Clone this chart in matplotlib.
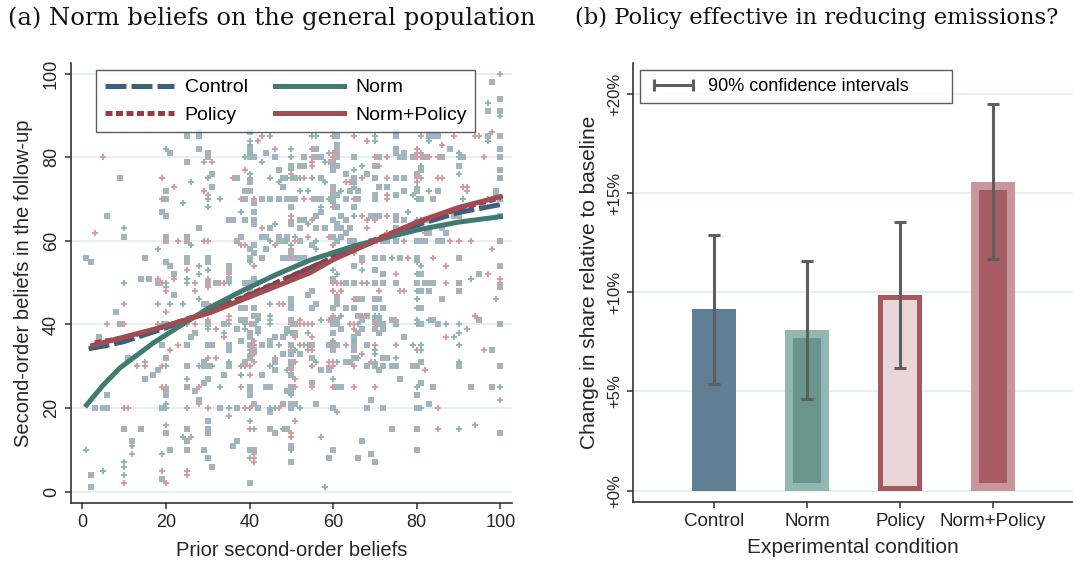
import numpy as np
import matplotlib.pyplot as plt
from matplotlib.lines import Line2D

plt.rcParams['font.family'] = ['Liberation Sans', 'DejaVu Sans']

# ---- panel (a): prior vs follow-up second-order beliefs ----
gray_pts = [(21,81),(28,82),(28,86),(30,81),(30,80),(25,79),(9,75),(31,76),(20,72),(31,73),(20,70),(6,66),(19,67),
            (20,66),(28,63),(10,61),(20,60),(25,60),(20,61),(25,61),(1,56),(2,55),(15,56),(20,55),(21,54),(25,56),
            (25,55),(30,56),(30,55),(22,52),(14,51),(16,51),(18,50),(30,50),(22,47),(29,45),(8,43),(25,85),(28,85),
            (9,40),(20,40),(4,37),(30,40),(26,37),(27,38),(19,35),(25,35),(30,35),(11,32),(20,32),(25,30),(29,30),
            (30,30),(29,31),(18,29),(17,28),(15,27),(30,27),(29,26),(20,24),(20,23),(25,25),(27,24),(6,23),(28,22),
            (3,20),(5,20),(6,20),(19,20),(20,14),(10,15),(14,15),(25,15),(25,12),(30,17),(30,15),(30,14),(12,12),
            (21,10),(25,10),(29,10),(30,8),(2,4),(2,1),(19,3),(31,6),
            (41,42),(42,42),(60,41),(61,41),(38,41),(39,41),(50,41),(34,40),(41,40),(51,40),(60,40),(61,40),(37,39),
            (42,39),(49,39),(62,39),(40,38),(51,38),(60,38),(40,37),(46,37),(48,37),(45,36),(38,36),(31,35),(35,35),
            (40,35),(43,35),(45,35),(50,35),(55,35),(59,35),(61,35),(65,35),(35,34),(41,34),(60,34),(48,33),(50,33),
            (52,33),(40,32),(55,32),(65,32),(39,31),(46,31),(50,31),(63,31),(64,31),(35,30),(50,30),(46,29),(57,29),
            (59,29),(34,28),(43,28),(50,28),(55,26),(40,25),(44,25),(45,25),(50,25),(61,25),(62,25),(40,24),(49,24),
            (50,24),(40,23),(41,21),(48,21),(50,21),(51,21),(56,21),(33,20),(37,20),(42,20),(50,20),(60,20),(45,19),
            (45,15),(49,15),(46,14),(37,12),(36,11),(50,11),(40,10),(41,10),(50,7),(59,8),(60,10),(40,2),
            (66,42),(68,42),(67,41),(70,41),(71,41),(74,41),(84,41),(95,41),(71,40),(72,40),(75,40),(81,40),(85,40),
            (100,40),(67,39),(70,39),(72,39),(66,38),(71,38),(65,37),(77,37),(65,35),(68,35),(65,34),(98,34),(65,32),
            (72,32),(73,32),(81,31),(68,30),(70,30),(72,30),(74,30),(75,30),(79,30),(80,30),(90,30),(100,30),(71,29),
            (76,27),(81,26),(84,25),(93,25),(98,25),(80,23),(69,22),(83,21),(68,20),(72,20),(80,20),(74,15),(80,15),
            (100,14),(67,12),(80,10),(69,9),(66,8),(70,7),
            (40,86),(61,85),(61,83),(40,82),(44,81),(56,82),(61,82),(40,80),(41,80),(46,80),(53,80),(56,80),(57,80),
            (61,80),(60,79),(50,78),(52,78),(53,78),(60,78),(61,78),(47,77),(60,77),(37,75),(40,74),(48,75),(51,75),
            (57,75),(65,74),(63,76),(48,73),(60,73),(60,71),(61,71),(39,72),(40,72),(64,72),(39,70),(43,70),(45,70),
            (47,70),(49,70),(50,70),(51,70),(56,70),(57,70),(60,70),(63,70),(41,69),(57,67),(41,67),(50,68),(61,68),
            (35,65),(36,65),(39,65),(41,65),(52,65),(53,65),(56,66),(60,65),(62,66),(63,65),(61,64),(41,64),(50,64),
            (61,63),(62,63),(63,62),(45,63),(52,63),(56,63),(58,63),(43,61),(44,61),(47,61),(48,60),(49,61),(52,60),
            (60,61),(61,60),(62,61),(64,60),(37,60),(38,61),(40,58),(41,59),(47,60),(55,59),(44,58),(48,56),(49,56),
            (50,57),(51,56),(52,56),(53,56),(40,56),(41,57),(43,56),(35,54),(35,53),(35,51),(32,50),(39,50),(40,50),
            (41,51),(40,48),(40,47),(50,46),(50,45),(50,44),(54,47),(55,48),(56,45),(55,44),(60,51),(63,50),(61,46),
            (61,45),(60,44),(63,44),(38,44),(39,44),(41,44),
            (98,98),(97,91),(75,86),(75,85),(83,85),(84,85),(85,85),(88,82),(97,85),(71,80),(76,80),(77,80),(79,80),
            (82,80),(86,80),(91,80),(100,80),(65,80),(75,82),(77,81),(75,81),(70,78),(81,77),(90,78),(80,76),(100,77),
            (100,75),(68,76),(70,75),(75,75),(77,75),(65,75),(71,73),(73,73),(77,72),(80,72),(85,72),(66,72),(70,71),
            (75,71),(84,70),(100,70),(66,70),(70,70),(81,70),(65,68),(69,66),(71,66),(85,66),(89,66),(90,66),(100,66),
            (75,66),(75,65),(77,65),(83,65),(64,63),(75,63),(80,63),(83,62),(86,63),(87,62),(65,60),(69,60),(70,60),
            (72,60),(73,60),(75,60),(80,60),(81,60),(82,60),(85,60),(86,60),(100,60),(67,56),(70,56),(72,56),(76,56),
            (80,56),(90,56),(100,54),(65,54),(70,53),(72,52),(81,52),(95,52),(65,50),(70,50),(72,50),(75,50),(80,50),
            (82,50),(83,50),(84,50),(90,50),(81,48),(83,48),(90,48),(86,46),(66,46),(67,46),(70,46),(71,46),(65,44),
            (70,44),(72,44),(81,44),(100,94),(100,91),(100,85),(100,82),(100,49),(99,72)]

teal_pts = [(20,82),(29,79),(26,74),(30,75),(24,69),(30,70),(30,68),(10,63),(26,59),(18,58),(28,54),(30,53),(28,52),
            (25,51),(10,50),(20,50),(20,49),(25,50),(28,46),(21,45),(24,45),
            (19,40),(30,39),(15,31),(20,30),(28,30),(31,30),(25,27),(20,21),(20,20),(24,13),(12,11),(1,10),(19,9),
            (10,7),(10,6),(5,5),(10,4),
            (45,42),(62,42),(57,41),(42,41),(45,41),(35,40),(39,40),(45,40),(39,39),(34,38),(42,38),(49,38),(50,38),
            (54,38),(60,36),(47,35),(53,35),(54,35),(51,34),(40,33),(35,31),(56,31),(61,31),(31,30),(38,30),(45,30),
            (49,29),(38,28),(60,27),(33,25),(50,23),(35,20),(45,20),(46,20),(52,20),(40,17),(41,15),(48,15),(50,10),
            (40,8),(58,1),
            (70,42),(71,42),(80,41),(83,41),(66,40),(80,40),(87,40),(90,40),(90,38),(89,37),(65,36),(79,35),(81,35),
            (90,35),(70,34),(81,34),(70,33),(66,32),(75,32),(70,31),(90,31),(80,25),(100,25),(81,20),(90,15),
            (45,85),(55,85),(56,85),(60,85),(40,84),(40,83),(40,81),(50,82),(60,81),(39,80),(50,80),(43,79),(58,79),
            (50,77),(40,76),(40,75),(45,75),(49,75),(50,75),(52,75),(55,75),(58,74),(47,74),(62,72),(52,72),(54,72),
            (33,70),(59,70),(60,69),(57,68),(38,67),(54,64),(46,64),(45,60),(49,60),(51,61),(56,60),(50,59),(56,58),
            (40,55),(35,50),(45,45),(61,52),(60,53),(35,42),
            (97,93),(70,85),(70,84),(83,84),(97,84),(90,80),(90,81),(67,78),(65,77),(81,78),(90,76),(80,73),(65,73),
            (83,72),(79,71),(99,71),(97,70),(80,70),(91,70),(65,66),(78,67),(70,66),(80,65),(83,63),(74,56),(80,55),
            (81,54),(67,53),(80,52),(68,50),(93,51),(80,48),(80,46),(80,44),(100,90),(100,75)]

pink_pts = [(5,80),(31,79),(19,75),(22,73),(29,72),(30,71),(19,70),(3,62),(20,60),(23,60),(25,60),(29,60),(30,60),
            (25,53),(18,51),(22,51),(30,51),(19,50),(20,48),(27,50),(30,49),(27,48),(30,45),(10,45),(18,45),(20,43),
            (6,40),(10,40),(18,40),(25,40),(27,40),(30,41),(21,34),(23,35),(30,32),(13,30),(15,30),(19,30),(19,25),
            (20,25),(28,25),(28,21),(10,20),(11,20),(25,20),(30,20),(20,16),(26,13),(12,9),(10,2),(19,5),(20,2),
            (25,5),(25,4),
            (35,42),(35,41),(60,42),(59,41),(52,41),(40,40),(50,40),(52,40),(53,40),(54,40),(55,40),(64,40),(65,40),
            (32,39),(34,37),(51,37),(55,37),(41,36),(41,35),(52,35),(60,35),(63,35),(40,34),(50,34),(54,34),(55,34),
            (41,33),(32,32),(46,32),(41,31),(51,31),(59,31),(60,31),(39,30),(40,30),(55,30),(59,30),(60,30),(65,30),
            (50,29),(40,28),(51,27),(38,25),(51,25),(55,25),(60,25),(65,25),(39,20),(40,20),(47,20),(61,19),(35,18),
            (51,17),(40,15),(50,14),(50,13),(57,13),(41,9),(41,8),(41,7),
            (67,42),(94,42),(75,41),(65,39),(70,40),(92,39),(87,37),(70,35),(75,35),(80,34),(96,34),(67,33),(69,31),
            (82,29),(70,25),(100,22),(85,20),(94,16),(85,15),
            (43,85),(60,86),(42,84),(46,82),(55,82),(59,81),(61,81),(55,80),(60,80),(55,79),(59,79),(55,78),(39,77),
            (36,75),(50,76),(53,75),(63,74),(64,74),(60,72),(38,70),(41,70),(53,70),(55,70),(60,68),(50,66),(50,65),
            (55,65),(43,63),(51,60),(54,61),(59,61),(38,59),(39,59),(46,59),(50,58),(60,59),(50,56),(41,54),(35,52),
            (33,50),(34,50),(42,50),(47,45),(48,45),(60,50),(61,50),(62,50),(60,48),(62,48),(61,47),
            (98,86),(65,85),(68,84),(81,85),(86,83),(89,85),(94,85),(95,85),(70,80),(73,80),(80,80),(81,80),(83,80),
            (85,80),(96,80),(80,81),(81,81),(80,82),(71,78),(80,75),(81,75),(85,75),(86,75),(67,75),(73,75),(80,74),
            (91,73),(92,73),(92,72),(73,71),(65,70),(73,70),(67,66),(73,66),(68,65),(70,65),(81,65),(68,63),(73,62),
            (82,62),(77,60),(88,60),(90,60),(93,60),(98,58),(65,57),(78,56),(67,55),(84,56),(87,54),(75,52),(97,52),
            (67,50),(87,50),(100,50),(100,51),(76,48),(77,48),(71,48),(99,46),(65,46),(68,42),(100,100)]

# fitted curves per treatment arm
ctrl_x = [1.5, 5, 10, 20, 30, 40, 50, 60, 70, 80, 90, 100]
ctrl_y = [34.2, 34.8, 35.9, 39.2, 43.0, 47.0, 51.5, 56.0, 60.0, 63.8, 66.8, 68.7]
pol_x = [3, 10, 20, 30, 40, 50, 60, 70, 80, 90, 100]
pol_y = [35.6, 36.8, 39.6, 43.0, 47.2, 51.6, 56.0, 60.3, 64.3, 67.7, 70.3]
norm_x = [1, 5, 9, 17, 23, 30, 38.5, 46.5, 54.5, 65, 72, 80, 90, 100]
norm_y = [20.7, 25.5, 29.6, 35.6, 39.4, 43.8, 48.2, 52.0, 55.4, 58.8, 60.6, 62.6, 64.5, 65.8]
np_x = [2.5, 10, 17, 25, 30.5, 38.5, 46.5, 54.5, 60, 70, 80, 90, 100]
np_y = [35.0, 37.0, 38.8, 41.2, 42.8, 46.0, 49.2, 52.4, 55.5, 60.0, 64.5, 68.0, 70.6]

# ---- panel (b): effect on share choosing the policy ----
conditions = ['Control', 'Norm', 'Policy', 'Norm+Policy']
effect = [9.15, 8.1, 9.86, 15.55]
ci_low = [5.4, 4.6, 6.2, 11.7]
ci_high = [12.9, 11.6, 13.55, 19.5]

fig = plt.figure(figsize=(10.73, 5.66), dpi=100)

TXT = '#262626'
SPINE = '#333333'
GRID = '#e6eef1'

# left panel
axL = fig.add_axes([0.0662, 0.1108, 0.4106, 0.778])
for pts, mk, col, sz in [(gray_pts, 's', '#a3b4c1', 15), (teal_pts, 'P', '#8fb8ae', 22),
                         (pink_pts, 'P', '#d49ea3', 22)]:
    xs, ys = zip(*pts)
    axL.scatter(xs, ys, marker=mk, s=sz, c=col, linewidths=0, zorder=2)

axL.plot(ctrl_x, ctrl_y, color='#3e6080', lw=3.6, ls=(0, (4.2, 1.0)), label='Control', zorder=3)
axL.plot(pol_x, pol_y, color='#983a41', lw=3.6, ls=(0, (1.4, 0.7)), label='Policy', zorder=3)
axL.plot(norm_x, norm_y, color='#3f7b70', lw=3.6, label='Norm', zorder=4)
axL.plot(np_x, np_y, color='#a34b52', lw=3.6, label='Norm+Policy', zorder=5)

axL.set_xlim(-2.7, 102.7)
axL.set_ylim(-2.8, 102.6)
axL.set_xticks(range(0, 101, 20))
axL.set_yticks(range(0, 101, 20))
axL.tick_params(axis='y', labelrotation=90)
for lab in axL.get_yticklabels():
    lab.set_va('center')
axL.set_xlabel('Prior second-order beliefs', fontsize=14.5, color=TXT, labelpad=7)
axL.set_ylabel('Second-order beliefs in the follow-up', fontsize=14.5, color=TXT, labelpad=7)
axL.yaxis.grid(True, color=GRID, lw=1.3, zorder=0)
axL.set_axisbelow(True)

leg = axL.legend(ncol=2, loc='upper left', bbox_to_anchor=(0.0567, 0.984), borderaxespad=0,
                 fontsize=14, handlelength=3.55, handletextpad=0.57, columnspacing=1.4,
                 borderpad=0.45, labelspacing=0.5, frameon=True, fancybox=False)
leg.get_frame().set_edgecolor('#333333')
leg.get_frame().set_linewidth(1.0)
leg.set_zorder(10)

# right panel
axR = fig.add_axes([0.590, 0.1131, 0.41, 0.7756])
xpos = np.arange(1, len(conditions) + 1)
axR.set_xlim(0.13, 4.86)
axR.set_ylim(-0.57, 21.56)
fig.canvas.draw()
bb = axR.get_window_extent()
px_x = bb.width / (4.86 - 0.13)
px_y = bb.height / (21.56 + 0.57)

bar_w = 0.468
bar_style = [('#607f95', None, 0), ('#94b6b2', '#69958d', 7.6), ('#a5585e', '#e9d6d7', 4.5),
             ('#c9979b', '#a65c62', 7.6)]
for xp, val, (outer, inner, inset) in zip(xpos, effect, bar_style):
    axR.bar(xp, val, width=bar_w, color=outer, linewidth=0, zorder=2)
    if inner:
        dx = inset / px_x
        dy = inset / px_y
        axR.bar(xp, val - 2 * dy, bottom=dy, width=bar_w - 2 * dx, color=inner, linewidth=0, zorder=3)

err = [np.array(effect) - np.array(ci_low), np.array(ci_high) - np.array(effect)]
axR.errorbar(xpos, effect, yerr=err, fmt='none', ecolor='#5e5e5e', elinewidth=2.2,
             capsize=4.5, capthick=2.2, zorder=4)

axR.set_xticks(xpos)
axR.set_xticklabels(conditions, fontsize=13.5, color=TXT)
axR.set_yticks([0, 5, 10, 15, 20])
axR.set_yticklabels(['+0%', '+5%', '+10%', '+15%', '+20%'], rotation=90, va='center')
axR.set_xlabel('Experimental condition', fontsize=15, color=TXT, labelpad=6)
axR.set_ylabel('Change in share relative to baseline', fontsize=15, color=TXT, labelpad=6)
axR.yaxis.grid(True, color=GRID, lw=1.3, zorder=0)
axR.set_axisbelow(True)

ci_handle = Line2D([0, 1], [0, 0], color='#5e5e5e', lw=2.2, marker='|', markersize=8, mew=2.2)
legR = axR.legend([ci_handle], ['90% confidence intervals' + ' ' * 7], loc='upper left',
                  bbox_to_anchor=(0.016, 0.984), borderaxespad=0, fontsize=13, numpoints=2,
                  handlelength=2.8, handletextpad=0.5, borderpad=0.45, frameon=True, fancybox=False)
legR.get_frame().set_edgecolor('#333333')
legR.get_frame().set_linewidth(1.0)

for ax in (axL, axR):
    for side in ('top', 'right'):
        ax.spines[side].set_visible(False)
    for side in ('left', 'bottom'):
        ax.spines[side].set_color(SPINE)
        ax.spines[side].set_linewidth(1.2)
    ax.tick_params(direction='out', length=4.5, width=1.1, color=SPINE, labelcolor=TXT)
axL.tick_params(labelsize=13)
axR.tick_params(axis='y', labelsize=12)

fig.text(8 / 1073, 1 - 18 / 566, '(a) Norm beliefs on the general population', fontsize=17.5,
         family='DejaVu Serif', va='center', ha='left', color='#111111')
fig.text(575 / 1073, 1 - 18 / 566, '(b) Policy effective in reducing emissions?', fontsize=16.3,
         family='DejaVu Serif', va='center', ha='left', color='#111111')

fig.savefig('out.png', dpi=100)
